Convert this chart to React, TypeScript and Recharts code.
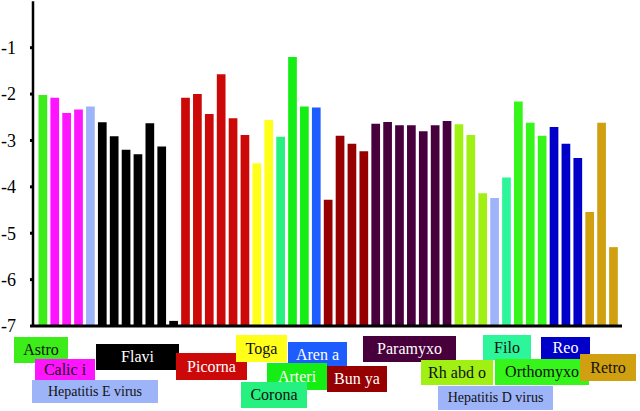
import React from 'react';
import { BarChart, Bar, XAxis, YAxis, Cell } from 'recharts';

const families: string[] = [
  'Astro',
  'Calici', 'Calici', 'Calici',
  'Hepatitis E virus',
  'Flavi', 'Flavi', 'Flavi', 'Flavi', 'Flavi', 'Flavi', 'Flavi',
  'Picorna', 'Picorna', 'Picorna', 'Picorna', 'Picorna', 'Picorna',
  'Toga', 'Toga',
  'Corona',
  'Arteri', 'Arteri',
  'Arena',
  'Bunya', 'Bunya', 'Bunya', 'Bunya',
  'Paramyxo', 'Paramyxo', 'Paramyxo', 'Paramyxo', 'Paramyxo', 'Paramyxo', 'Paramyxo',
  'Rhabdo', 'Rhabdo', 'Rhabdo',
  'Hepatitis D virus',
  'Filo',
  'Orthomyxo', 'Orthomyxo', 'Orthomyxo',
  'Reo', 'Reo', 'Reo',
  'Retro', 'Retro', 'Retro',
];

const values: number[] = [
  -2.02,
  -2.08, -2.41, -2.33,
  -2.27,
  -2.61, -2.91, -3.2, -3.3, -2.63, -3.13, -6.89,
  -2.08, -2.0, -2.43, -1.57, -2.52, -2.88,
  -3.49, -2.56,
  -2.92,
  -1.2, -2.27,
  -2.29,
  -4.28, -2.9, -3.07, -3.23,
  -2.64, -2.6, -2.67, -2.67, -2.8, -2.67, -2.58,
  -2.65, -2.88, -4.14,
  -4.24,
  -3.8,
  -2.16, -2.62, -2.9,
  -2.71, -3.07, -3.38,
  -4.54, -2.62, -5.3,
];

const yTicks: number[] = [-7, -6, -5, -4, -3, -2, -1];

const familyColors: Record<string, string> = {
  Astro: '#3ded1a',
  Calici: '#ff14ff',
  'Hepatitis E virus': '#9db4f8',
  Flavi: '#000000',
  Picorna: '#cc0808',
  Toga: '#ffff1a',
  Corona: '#25f080',
  Arteri: '#14ee14',
  Arena: '#1d5cff',
  Bunya: '#960000',
  Paramyxo: '#48003c',
  Rhabdo: '#a0f014',
  'Hepatitis D virus': '#9db4f8',
  Filo: '#2cf59a',
  Orthomyxo: '#36f51a',
  Reo: '#0000c8',
  Retro: '#d0a010',
};

// label names, drawn in this order (later on top)
const labelNames: string[] = [
  'Astro', 'Calici', 'Hepatitis E virus', 'Flavi', 'Picorna', 'Toga', 'Arena',
  'Arteri', 'Corona', 'Bunya', 'Paramyxo', 'Filo', 'Reo', 'Rhabdo', 'Orthomyxo',
  'Retro', 'Hepatitis D virus',
];
const labelTexts: Record<string, string> = {
  Astro: 'Astro',
  Calici: 'Calic i',
  'Hepatitis E virus': 'Hepatitis E virus',
  Flavi: 'Flavi',
  Picorna: 'Picorna',
  Toga: 'Toga',
  Arena: 'Aren a',
  Arteri: 'Arteri',
  Corona: 'Corona',
  Bunya: 'Bun ya',
  Paramyxo: 'Paramyxo',
  Filo: 'Filo',
  Reo: 'Reo',
  Rhabdo: 'Rh abd o',
  Orthomyxo: 'Orthomyxo',
  Retro: 'Retro',
  'Hepatitis D virus': 'Hepatitis D virus',
};

// layout of label boxes: [left, top, width, height, textColor, fontSize]
const labelBoxes: Record<string, [number, number, number, number, string, number]> = {
  Astro: [14, 337, 54, 26, '#111', 16],
  Calici: [35, 359, 60, 21, '#111', 16],
  'Hepatitis E virus': [32, 380, 126, 23, '#111', 14],
  Flavi: [96, 344, 83, 26, '#fff', 16],
  Picorna: [176, 353, 71, 27, '#fff', 16],
  Toga: [236, 335, 51, 27, '#111', 16],
  Arena: [288, 342, 59, 25, '#fff', 16],
  Arteri: [267, 363, 60, 27, '#fff', 16],
  Corona: [241, 382, 66, 26, '#111', 16],
  Bunya: [327, 366, 60, 26, '#fff', 16],
  Paramyxo: [363, 336, 93, 26, '#fff', 16],
  Filo: [483, 335, 48, 25, '#111', 16],
  Reo: [541, 337, 49, 22, '#fff', 16],
  Rhabdo: [421, 360, 72, 25, '#111', 16],
  Orthomyxo: [495, 359, 94, 26, '#111', 16],
  Retro: [580, 354, 56, 27, '#111', 16],
  'Hepatitis D virus': [438, 386, 115, 24, '#111', 14],
};

const SERIF = '"Liberation Serif", "Times New Roman", Times, "DejaVu Serif", serif';

const data = values.map((v, i) => ({ id: String(i), family: families[i], value: v }));

const App: React.FC = () => {
  return (
    <div style={{ position: 'absolute', left: 0, top: 0, width: 640, height: 411, background: '#fff' }}>
      <BarChart
        width={640}
        height={411}
        data={data}
        margin={{ top: 1.3, right: 18, bottom: 0, left: 0 }}
        style={{ fontFamily: SERIF }}
      >
        <XAxis
          dataKey="id"
          tick={false}
          tickLine={false}
          axisLine={{ stroke: '#000', strokeWidth: 3 }}
          height={85}
          padding={{ left: 3.5, right: 3 }}
        />
        <YAxis
          type="number"
          domain={[-7, 0]}
          ticks={yTicks}
          width={33}
          axisLine={{ stroke: '#000', strokeWidth: 2.5 }}
          tickLine={{ stroke: '#000', strokeWidth: 3 }}
          tickSize={3}
          tickMargin={14}
          tick={{ fill: '#000', fontSize: 18, fontFamily: SERIF }}
          interval={0}
        />
        <Bar
          dataKey={(d: any) => [-7, d.value]}
          barSize={8.7}
          isAnimationActive={false}
        >
          {data.map((d) => (
            <Cell key={d.id} fill={familyColors[d.family]} />
          ))}
        </Bar>
      </BarChart>
      {labelNames.map((name) => {
        const [left, top, w, h, color, fs] = labelBoxes[name];
        return (
          <div
            key={name}
            style={{
              position: 'absolute',
              left,
              top,
              width: w,
              height: h,
              background: familyColors[name],
              color,
              fontFamily: SERIF,
              fontSize: fs,
              lineHeight: `${h}px`,
              textAlign: 'center',
              whiteSpace: 'nowrap',
            }}
          >
            {labelTexts[name]}
          </div>
        );
      })}
    </div>
  );
};

export default App;
